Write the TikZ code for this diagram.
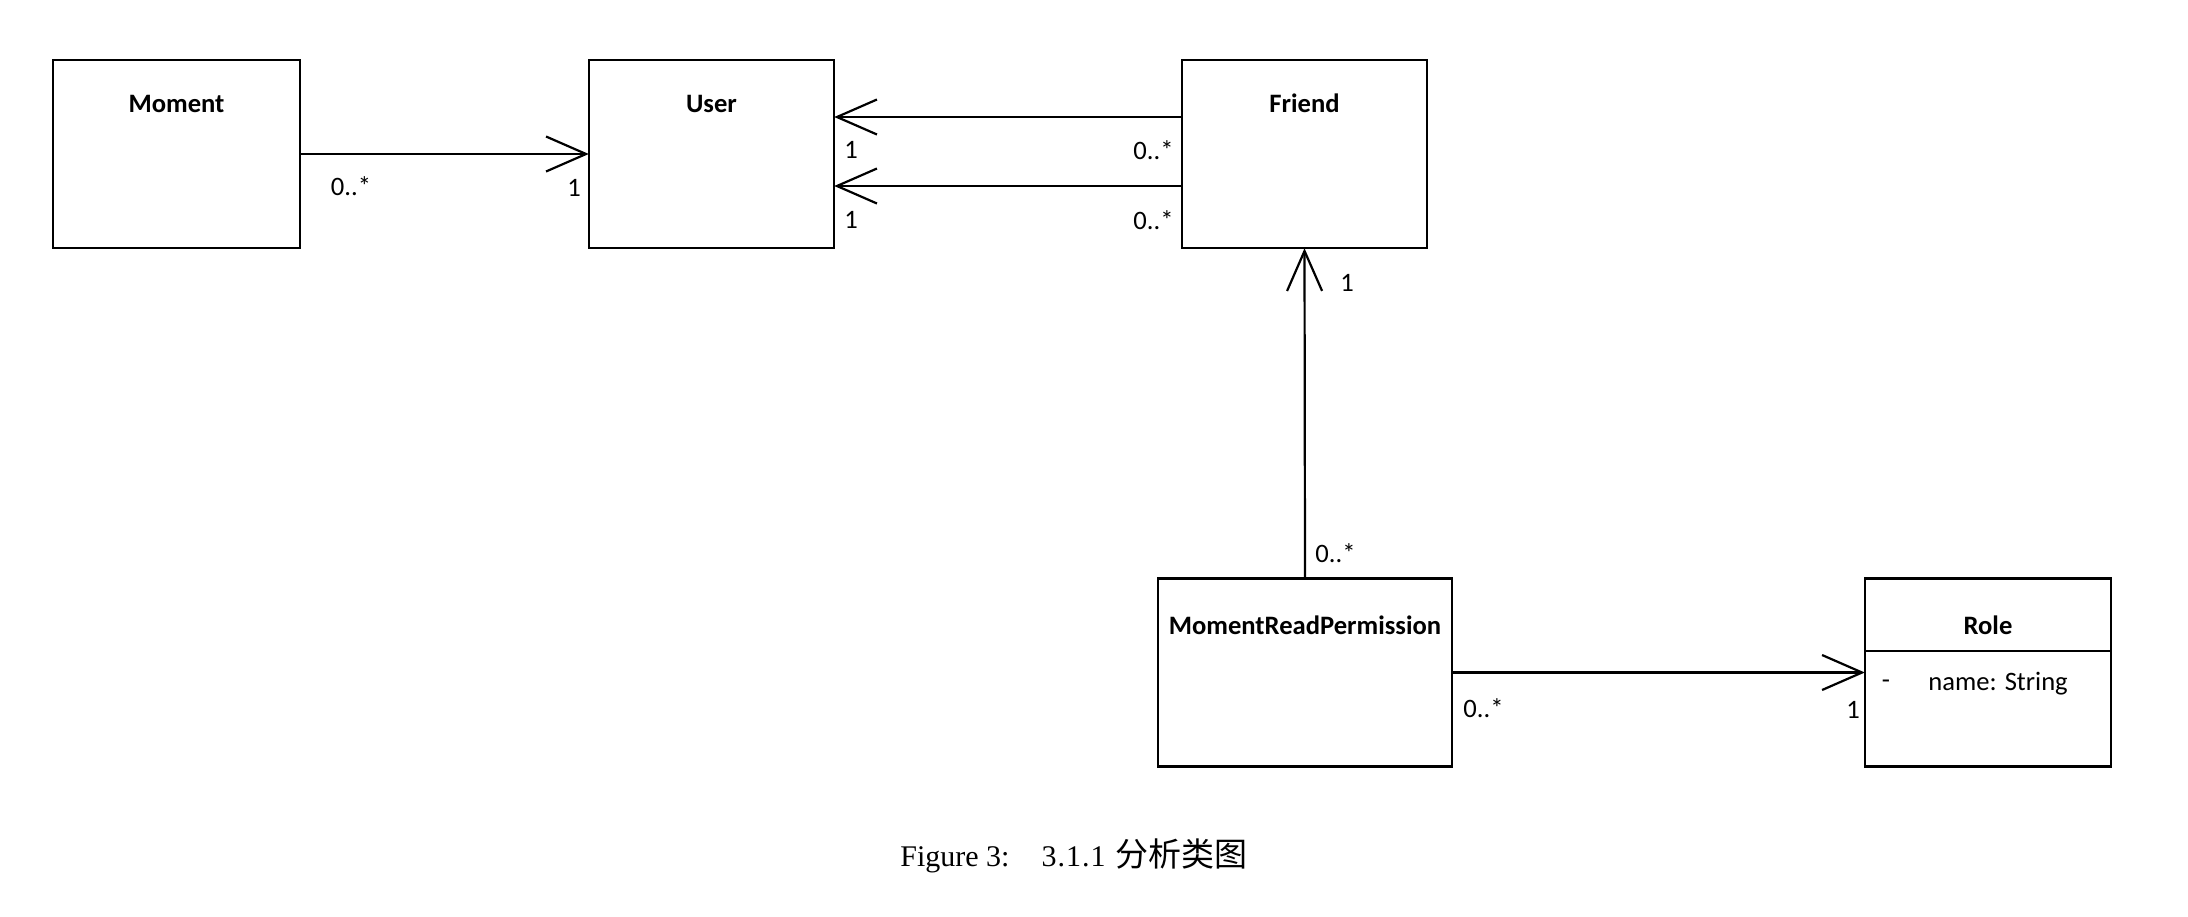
\documentclass[tikz,border=0pt]{standalone}
\usepackage{fontspec}
\setmainfont{Carlito}
\newfontfamily\capfont{Liberation Serif}
\newfontfamily\cjk{Noto Sans CJK SC}
\usetikzlibrary{arrows.meta}
\begin{document}
\begin{tikzpicture}[x=0.5pt,y=-0.5pt,
  cls/.style={draw, line width=1.2pt, minimum width=#1, minimum height=94pt, inner sep=0pt},
  ttl/.style={font=\fontsize{13.3}{16}\selectfont\bfseries, inner sep=0pt, anchor=base},
  lbl/.style={font=\fontsize{13.3}{16}\selectfont, inner sep=0pt},
  assoc/.style={line width=1.1pt, -{Straight Barb[length=20pt,width=17.5pt]}, shorten >=-0.5pt},
  plain/.style={line width=1pt}]
\useasboundingbox (0,0) rectangle (2188,916);
% classes
\node[cls=123.5pt] (moment) at (176.5,154) {};
\node[ttl] (tmoment) at (176.5,112.5) {Moment};
\node[cls=122.5pt] (user) at (711.5,154) {};
\node[ttl] (tuser) at (711.5,112.5) {User};
\node[cls=122.5pt] (friend) at (1304.5,154) {};
\node[ttl] (tfriend) at (1304.5,112.5) {Friend};
\node[cls=147pt] (mrp) at (1305,672.5) {};
\node[ttl] (tmrp) at (1305,634.5) {MomentReadPermission};
\node[cls=123pt] (role) at (1988,672.5) {};
\node[ttl] (trole) at (1988,634.5) {Role};
\coordinate (sepL) at (1865,651);
\coordinate (sepR) at (2111,651);
\draw[line width=1.2pt] (sepL) -- (sepR);
\node[lbl] (vis) at (1886,684) {-};
\node[lbl, anchor=west] (attr) at (1928,684) {name: String};
% connectors
\draw[assoc] (moment.east) -- (user.west);
\draw[assoc] ([yshift=18.5pt]friend.west) -- ([yshift=18.5pt]user.east);
\draw[assoc] ([yshift=-16pt]friend.west) -- ([yshift=-16pt]user.east);
\draw[assoc] (mrp.north) -- (friend.south);
\draw[assoc] (mrp.east) -- (role.west);
% multiplicities
\node[lbl] (m1) at (351,186) {0..*};
\node[lbl] (m2) at (574,188) {1};
\node[lbl] (m3) at (851,150) {1};
\node[lbl] (m4) at (851,220) {1};
\node[lbl, anchor=east] (m5) at (1174,150) {0..*};
\node[lbl, anchor=east] (m6) at (1174,220) {0..*};
\node[lbl] (m7) at (1347,283) {1};
\node[lbl, anchor=west] (m8) at (1315,553) {0..*};
\node[lbl, anchor=west] (m9) at (1463,708) {0..*};
\node[lbl] (m10) at (1853,710) {1};
% caption
\node[anchor=base west, inner sep=0pt] (cap) at (900,866.5) {\capfont\fontsize{15}{18}\selectfont Figure 3:\hspace{16pt}3\kern0.5pt.\kern0.5pt1\kern0.5pt.\kern0.5pt1\hspace{5pt}{\cjk\fontsize{16.5}{19}\selectfont 分析类图}};
\end{tikzpicture}
\end{document}
